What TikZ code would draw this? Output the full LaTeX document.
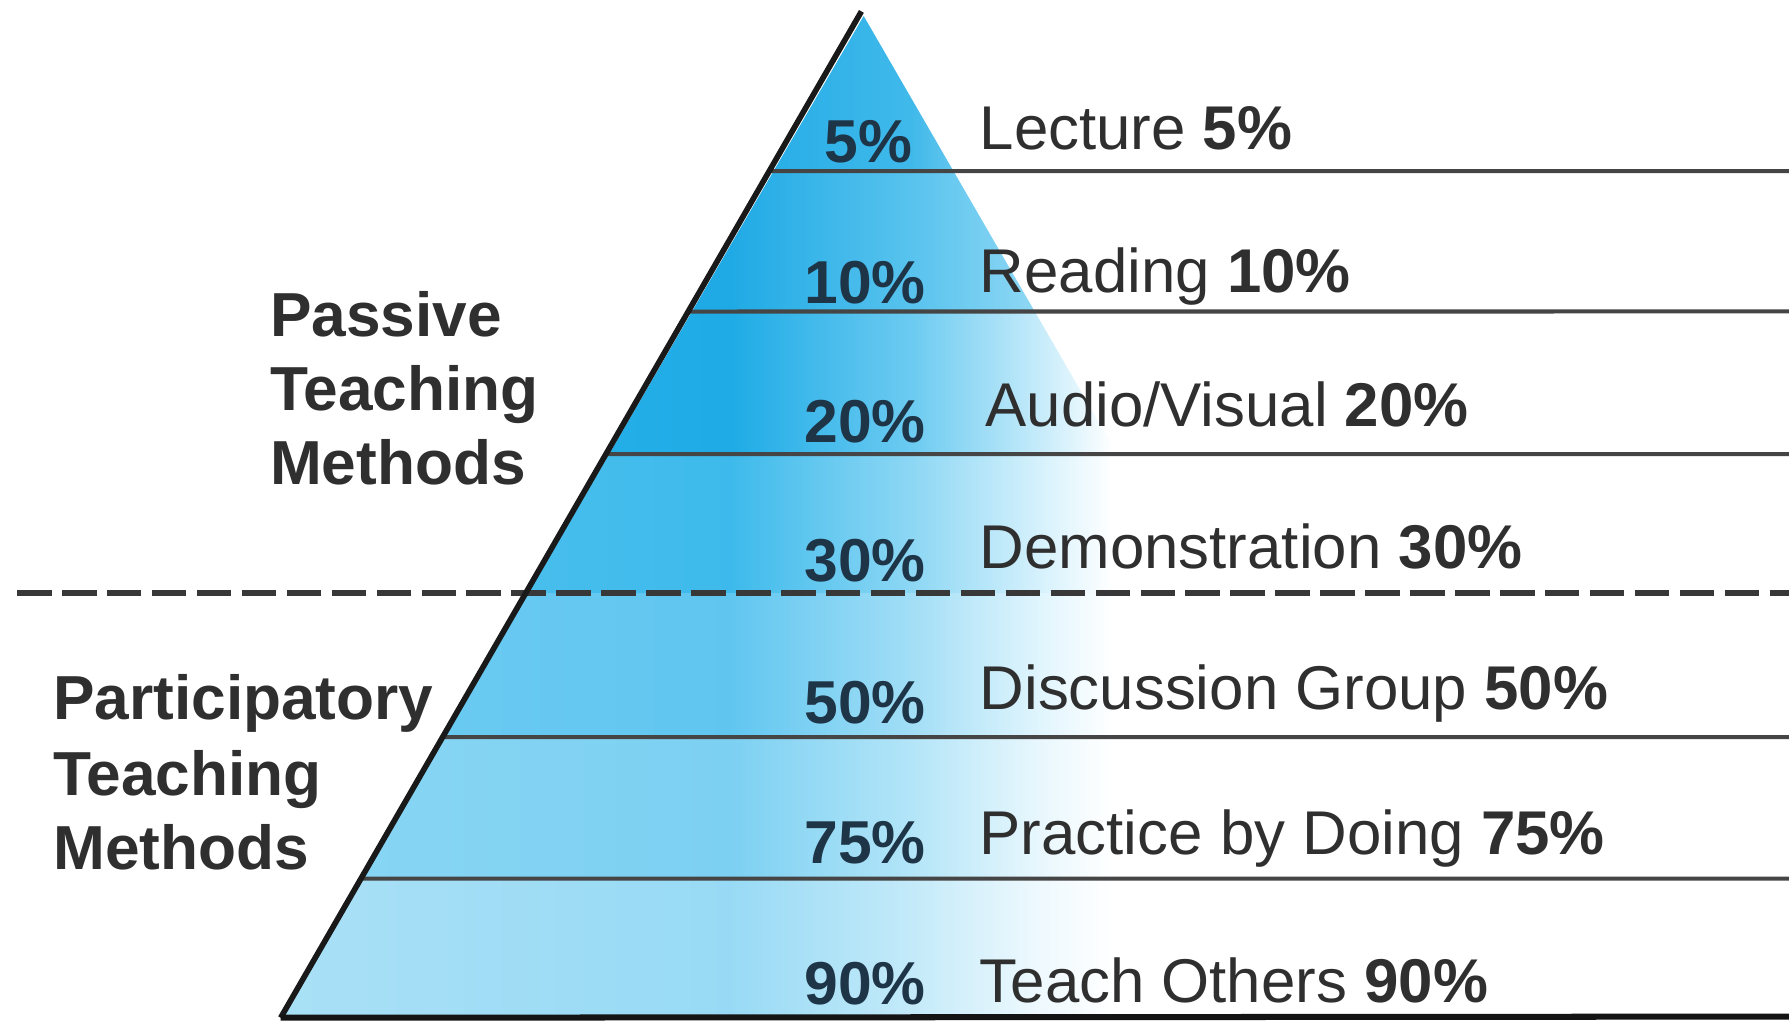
\documentclass[tikz,border=0pt]{standalone}
\usepackage{fontspec}
\setmainfont{Liberation Sans}
\usetikzlibrary{calc}

% band colours: l = far left, d = deepest, m = middle, p = pale
\definecolor{b1l}{HTML}{2AAEE6}\definecolor{b1d}{HTML}{22ABE6}\definecolor{b1m}{HTML}{40B9EA}\definecolor{b1p}{HTML}{A6E0F6}
\definecolor{b2l}{HTML}{1EA9E4}\definecolor{b2d}{HTML}{1FAAE5}\definecolor{b2m}{HTML}{58C3EE}\definecolor{b2p}{HTML}{90D8F4}
\definecolor{b3l}{HTML}{35B7EA}\definecolor{b3d}{HTML}{1EABE6}\definecolor{b3m}{HTML}{6CCBF1}\definecolor{b3p}{HTML}{C5EBFA}
\definecolor{b4l}{HTML}{55C3EE}\definecolor{b4d}{HTML}{3DBAEB}\definecolor{b4m}{HTML}{8DD7F4}\definecolor{b4p}{HTML}{D5F1FC}
\definecolor{b5l}{HTML}{6FCCF2}\definecolor{b5d}{HTML}{60C6F0}\definecolor{b5m}{HTML}{A2DEF6}\definecolor{b5p}{HTML}{E0F5FD}
\definecolor{b6l}{HTML}{8AD6F4}\definecolor{b6d}{HTML}{7CD0F2}\definecolor{b6m}{HTML}{B3E5F8}\definecolor{b6p}{HTML}{E8F7FD}
\definecolor{b7l}{HTML}{A9E0F6}\definecolor{b7d}{HTML}{98DAF5}\definecolor{b7m}{HTML}{C3EAF9}\definecolor{b7p}{HTML}{EEF9FE}
\definecolor{pcttext}{HTML}{1E3447}
\definecolor{lbltext}{HTML}{2F2F2F}
\definecolor{rowgray}{HTML}{454545}

% one horizontal fade per band (path box spans 25bp..75bp)
\newcommand\bandshading[1]{%
  \pgfdeclarehorizontalshading{band#1}{100bp}{%
    color(0bp)=(b#1l); color(25bp)=(b#1l); color(51.3bp)=(b#1d);
    color(61.8bp)=(b#1m); color(69.1bp)=(b#1p); color(73.4bp)=(white);
    color(100bp)=(white)}}
\bandshading{1}\bandshading{2}\bandshading{3}\bandshading{4}
\bandshading{5}\bandshading{6}\bandshading{7}

\begin{document}
\begin{tikzpicture}[x=0.01cm, y=-0.01cm,
  rowline/.style={draw=rowgray, line width=1pt},
  pct/.style={anchor=base east, inner sep=0pt, text=pcttext,
    font=\fontsize{15.1pt}{18pt}\selectfont\bfseries},
  lbl/.style={anchor=base west, inner sep=0pt, text=lbltext,
    font=\fontsize{15.4pt}{18pt}\selectfont},
  side/.style={anchor=base west, inner sep=0pt, text=lbltext,
    font=\fontsize{15.5pt}{18pt}\selectfont\bfseries}]

\useasboundingbox (0,0) rectangle (1568,896);
\fill[white] (0,0) rectangle (1568,896);

\coordinate (apex) at (755,10);
\coordinate (bl) at (246,892);

% shaded bands inside the pyramid
\begin{scope}
  \clip (757,14) -- (248,890) -- (1264,890) -- cycle;
  \shade[shading=band1] (240,0)   rectangle (1000,150);
  \shade[shading=band2] (240,150) rectangle (1000,273);
  \shade[shading=band3] (240,273) rectangle (1000,398);
  \shade[shading=band4] (240,398) rectangle (1000,520);
  \shade[shading=band5] (240,520) rectangle (1000,646);
  \shade[shading=band6] (240,646) rectangle (1000,770);
  \shade[shading=band7] (240,770) rectangle (1000,891);
\end{scope}

% level separators
\foreach \t/\y in {0.1587/150, 0.2982/273, 0.4399/398, 0.7211/646, 0.8617/770}
  \draw[rowline] ($(apex)!\t!(bl)$) -- (1568,\y);

% passive / participatory boundary
\draw[draw=black!78, line width=1.45pt, dash pattern=on 8.6pt off 2.6pt]
  (15,520) -- (1568,520);

% pyramid side and base
\draw[draw=black!90, line width=1.4pt] (apex) -- (bl);
\draw[draw=black!92, line width=1.5pt] (bl) -- (1568,891);

% retention figures inside the pyramid
\node[pct] (p5)  at (800,142) {5\%};
\node[pct] (p10) at (812,266) {10\%};
\node[pct] (p20) at (812,388) {20\%};
\node[pct] (p30) at (812,510) {30\%};
\node[pct] (p50) at (812,634) {50\%};
\node[pct] (p75) at (812,757) {75\%};
\node[pct] (p90) at (812,880) {90\%};

% method labels
\node[lbl] (l5)  at (858,131) {Lecture \textbf{5\%}};
\node[lbl] (l10) at (858,256) {Reading \textbf{10\%}};
\node[lbl] (l20) at (863,374) {Audio/Visual \textbf{20\%}};
\node[lbl] (l30) at (858,498) {Demonstration \textbf{30\%}};
\node[lbl] (l50) at (858,622) {Discussion Group \textbf{50\%}};
\node[lbl] (l75) at (858,749) {Practice by Doing \textbf{75\%}};
\node[lbl] (l90) at (858,879) {Teach Others \textbf{90\%}};

% group headings
\node[side] (pa1) at (236,295) {Passive};
\node[side] (pa2) at (236,360) {Teaching};
\node[side] (pa3) at (236,425) {Methods};
\node[side] (pc1) at (46,631) {Participatory};
\node[side] (pc2) at (46,697) {Teaching};
\node[side] (pc3) at (46,762) {Methods};
\end{tikzpicture}
\end{document}
